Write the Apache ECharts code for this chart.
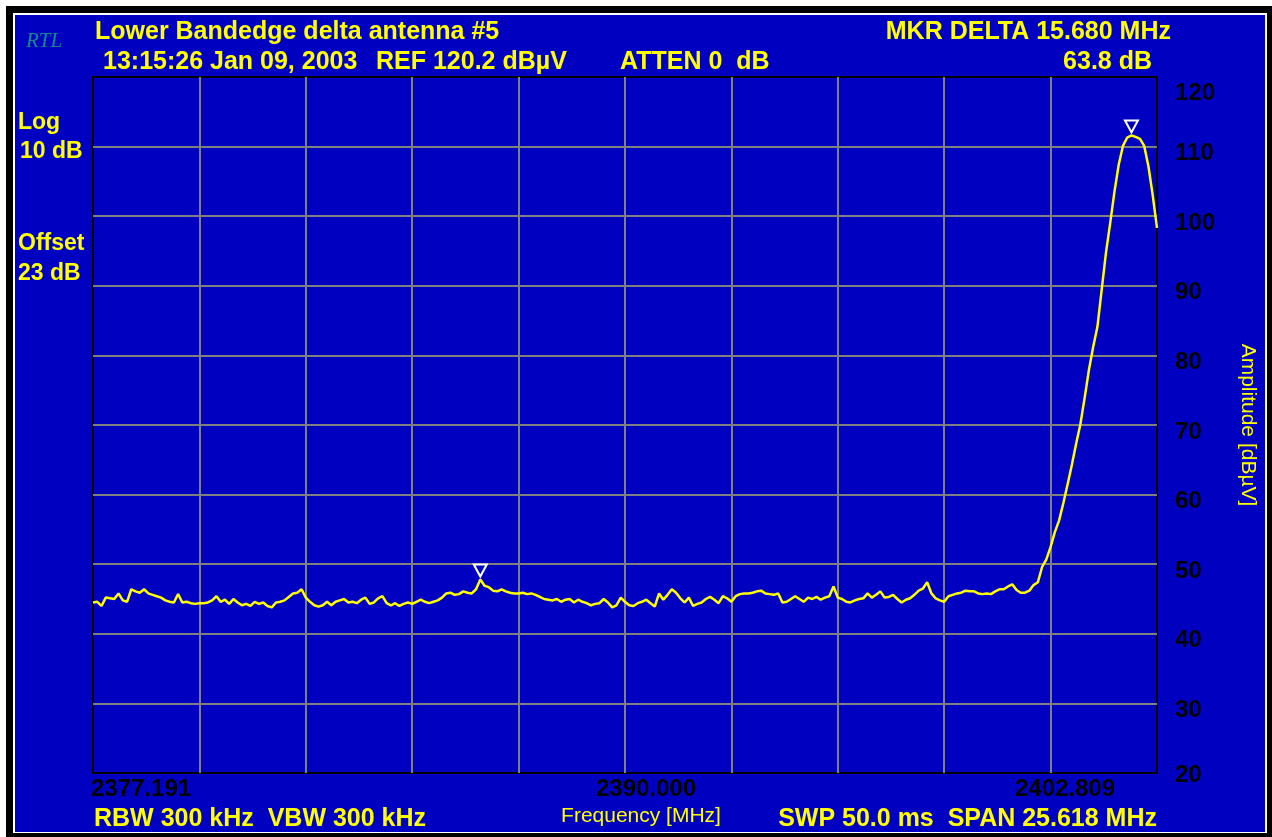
<!DOCTYPE html>
<html>
<head>
<meta charset="utf-8">
<script src="https://cdn.jsdelivr.net/npm/echarts@6/dist/echarts.min.js"></script>
<style>
  html, body { margin: 0; padding: 0; background: #ffffff; }
  #chart { width: 1272px; height: 837px; }
</style>
</head>
<body>
<div id="chart"></div>
<script>
// Sweep settings of the analyser
const START_MHZ = 2377.191;
const SPAN_MHZ = 25.618;
const freqTickLabels = ['2377.191', '2390.000', '2402.809'];

// Amplitude scale (dBµV)
const ampMin = 20;
const ampMax = 120;
const ampStep = 10;

// Trace amplitude, 251 sweep points evenly spaced over the span (dBµV)
const traceDbuv = [
  44.5, 44.6, 44.0, 45.2, 45.1, 45.0, 45.8, 44.8, 44.6, 46.4,
  46.1, 45.9, 46.4, 45.8, 45.6, 45.4, 45.2, 44.8, 44.6, 44.5,
  45.7, 44.5, 44.6, 44.4, 44.3, 44.4, 44.4, 44.5, 44.8, 45.4,
  44.6, 44.9, 44.3, 45.0, 44.5, 44.1, 44.3, 44.0, 44.6, 44.3,
  44.5, 44.0, 43.8, 44.5, 44.6, 44.8, 45.3, 45.8, 45.9, 46.4,
  45.2, 44.6, 44.1, 43.9, 44.1, 44.6, 44.1, 44.6, 44.8, 45.0,
  44.5, 44.6, 44.4, 44.9, 45.2, 44.3, 44.5, 45.1, 45.4, 44.4,
  44.1, 44.4, 44.0, 44.3, 44.5, 44.3, 44.6, 44.9, 44.6, 44.4,
  44.6, 44.8, 45.2, 45.8, 45.9, 45.6, 45.7, 46.1, 45.9, 45.8,
  46.4, 47.8, 46.9, 46.7, 46.2, 46.1, 46.4, 46.1, 45.9, 45.8,
  45.8, 45.9, 45.7, 45.8, 45.6, 45.3, 45.0, 44.9, 44.8, 45.0,
  44.6, 44.9, 45.0, 44.5, 44.9, 44.6, 44.4, 44.1, 44.3, 44.4,
  45.0, 44.5, 43.8, 44.1, 45.2, 44.6, 44.1, 44.0, 44.4, 44.6,
  44.9, 44.4, 43.9, 45.8, 44.9, 45.6, 46.4, 45.9, 45.1, 44.5,
  45.2, 44.0, 44.3, 44.5, 45.0, 45.3, 44.9, 44.4, 45.4, 45.1,
  44.6, 45.4, 45.7, 45.8, 45.8, 45.9, 46.1, 46.2, 45.8, 45.7,
  45.6, 45.8, 44.5, 44.6, 45.0, 45.4, 45.0, 44.6, 45.2, 45.0,
  45.3, 44.9, 45.2, 45.4, 46.8, 45.2, 45.0, 44.6, 44.5, 44.8,
  45.0, 45.1, 45.8, 45.2, 45.6, 46.1, 45.2, 45.3, 45.6, 45.0,
  44.5, 44.9, 45.1, 45.6, 46.2, 46.5, 47.4, 45.8, 45.1, 44.8,
  44.6, 45.4, 45.6, 45.8, 45.9, 46.2, 46.1, 46.1, 45.8, 45.7,
  45.8, 45.7, 46.1, 46.4, 46.4, 46.8, 47.1, 46.3, 45.9, 45.9,
  46.2, 47.0, 47.4, 49.6, 50.7, 52.5, 54.6, 56.3, 58.8, 61.5,
  64.3, 67.3, 70.1, 73.9, 77.9, 81.2, 84.1, 89.4, 94.7, 99.0,
  103.5, 107.4, 110.1, 111.3, 111.6, 111.4, 111.1, 110.1, 107.1, 103.0,
  98.3
];

// Sweep points carrying the reference marker and the delta marker
const markerIndex = [91, 244];

const BLUE = '#0000c0';
const YELLOW = '#ffff00';
const SANS = '"Liberation Sans", Arial, sans-serif';

const stepMHz = SPAN_MHZ / (traceDbuv.length - 1);
const traceData = traceDbuv.map((v, i) => [i * stepMHz, v]);
const markerData = markerIndex.map(i => ({ coord: [i * stepMHz, traceDbuv[i]] }));
const deltaDb = (traceDbuv[markerIndex[1]] - traceDbuv[markerIndex[0]]).toFixed(1);

function label(text, x, y, align, opts) {
  const o = opts || {};
  return {
    type: 'text',
    x: x, y: y,
    rotation: o.rotation || 0,
    silent: true,
    style: {
      text: text,
      font: o.font || ('bold 25px ' + SANS),
      fill: o.color || YELLOW,
      align: align, textAlign: align,
      verticalAlign: 'middle', textVerticalAlign: 'middle'
    }
  };
}

const sideFont = 'bold 23px ' + SANS;
const tickFont = { fontFamily: SANS, fontWeight: 'bold', fontSize: 24, color: '#000000' };

const chart = echarts.init(document.getElementById('chart'), null, { renderer: 'canvas' });

chart.setOption({
  animation: false,
  backgroundColor: '#ffffff',
  grid: {
    left: 93, right: 115, top: 77, bottom: 64,
    show: true,
    borderColor: '#000000',
    borderWidth: 2,
    backgroundColor: 'transparent',
    outerBoundsMode: 'none'
  },
  xAxis: {
    type: 'value',
    min: 0,
    max: SPAN_MHZ,
    interval: SPAN_MHZ / 10,
    axisLine: { show: false },
    axisTick: { show: false },
    axisLabel: { show: false },
    splitLine: {
      show: true, showMinLine: false, showMaxLine: false,
      lineStyle: { color: '#808080', width: 2 }
    }
  },
  yAxis: {
    type: 'value',
    position: 'right',
    min: ampMin,
    max: ampMax,
    interval: ampStep,
    axisLine: { show: false },
    axisTick: { show: false },
    splitLine: {
      show: true, showMinLine: false, showMaxLine: false,
      lineStyle: { color: '#808080', width: 2 }
    },
    axisLabel: {
      margin: 18,
      align: 'left',
      showMinLabel: true,
      showMaxLabel: true,
      formatter: v => v === ampMax ? '{top|' + v + '}' : (v === ampMin ? '{bot|' + v + '}' : '{mid|' + v + '}'),
      rich: {
        top: Object.assign({ padding: [32, 0, 0, 0] }, tickFont),
        mid: Object.assign({ padding: [14, 0, 0, 0] }, tickFont),
        bot: Object.assign({ padding: [4, 0, 0, 0] }, tickFont)
      }
    }
  },
  series: [{
    type: 'line',
    data: traceData,
    showSymbol: false,
    silent: true,
    z: 3,
    lineStyle: { color: YELLOW, width: 2.5 },
    markPoint: {
      silent: true,
      symbol: 'path://M0 0 L12 0 L6 11 Z',
      symbolSize: [13, 12],
      symbolOffset: [0, -9],
      itemStyle: { color: BLUE, borderColor: '#ffffff', borderWidth: 2 },
      label: { show: false },
      data: markerData
    }
  }],
  graphic: [
    // instrument screen frame
    { type: 'rect', z: -3, silent: true, shape: { x: 6, y: 6, width: 1280, height: 840 }, style: { fill: '#000000' } },
    { type: 'rect', z: -2, silent: true, shape: { x: 13, y: 13, width: 1254, height: 820 }, style: { fill: '#ffffff' } },
    { type: 'rect', z: -1, silent: true, shape: { x: 15, y: 15, width: 1250, height: 817 }, style: { fill: BLUE } },

    label('RTL', 26, 41, 'left', { font: 'italic 21px "Liberation Serif", "Times New Roman", serif', color: '#12898c' }),

    // header
    label('Lower Bandedge delta antenna #5', 95, 32, 'left'),
    label('13:15:26 Jan 09, 2003', 103, 62, 'left'),
    label('REF 120.2 dBµV', 376, 62, 'left'),
    label('ATTEN 0  dB', 620, 62, 'left'),
    label('MKR DELTA 15.680 MHz', 1171, 32, 'right'),
    label(deltaDb + ' dB', 1152, 62, 'right'),

    // scale annotations
    label('Log', 18, 123, 'left', { font: sideFont }),
    label('10 dB', 20, 152, 'left', { font: sideFont }),
    label('Offset', 18, 244, 'left', { font: sideFont }),
    label('23 dB', 18, 274, 'left', { font: sideFont }),

    // frequency labels: start, centre, stop
    label(freqTickLabels[0], 91, 789, 'left', { color: '#000000', font: 'bold 24px ' + SANS }),
    label(freqTickLabels[1], 646, 789, 'center', { color: '#000000', font: 'bold 24px ' + SANS }),
    label(freqTickLabels[2], 1065, 789, 'center', { color: '#000000', font: 'bold 24px ' + SANS }),

    // footer
    label('RBW 300 kHz  VBW 300 kHz', 94, 819, 'left'),
    label('Frequency [MHz]', 641, 816, 'center', { font: '21px ' + SANS }),
    label('SWP 50.0 ms  SPAN 25.618 MHz', 1157, 819, 'right'),

    label('Amplitude [dBµV]', 1248, 425, 'center', { font: '21px ' + SANS, rotation: -Math.PI / 2 })
  ]
});
</script>
</body>
</html>
